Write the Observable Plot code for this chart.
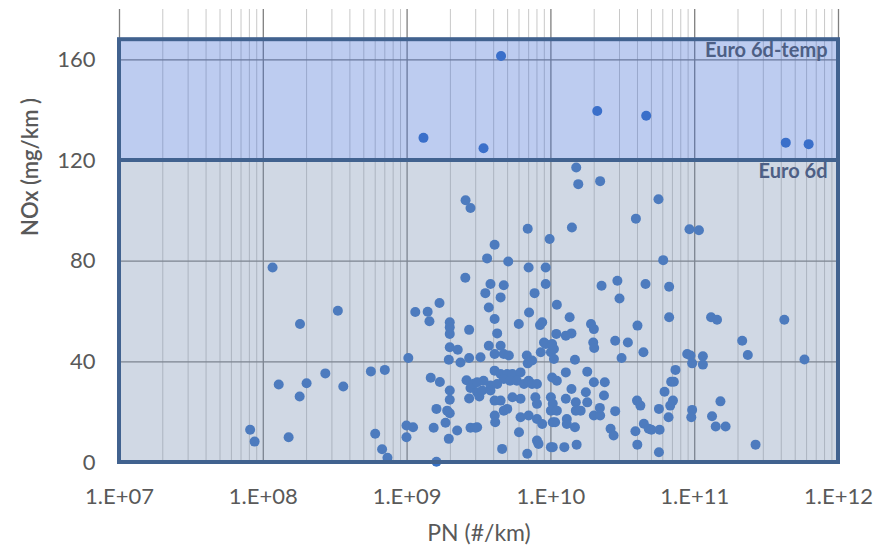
<!DOCTYPE html>
<html>
<head>
<meta charset="utf-8">
<script src="https://cdn.jsdelivr.net/npm/d3@7"></script>
<script src="https://cdn.jsdelivr.net/npm/@observablehq/plot@0.6"></script>
<style>
  html, body { margin: 0; padding: 0; background: #ffffff; }
  #chart { width: 879px; height: 552px; }
</style>
</head>
<body>
<div id="chart"></div>
<script>
// PN (#/km) and NOx (mg/km) per vehicle test
const pn = [
  4.5e9, 1.3e9, 3.4e9, 2.1e10, 4.6e10, 4.3e11, 6.2e11,
  1.16e8, 3.3e8, 1.8e8, 2.7e8, 1.28e8, 2.0e8, 1.79e8, 3.6e8, 5.6e8, 7.0e8,
  8.1e7, 8.7e7, 1.5e8, 6.0e8, 6.7e8, 7.3e8,
  2.55e9, 2.76e9, 2.54e9, 1.68e9, 1.14e9, 1.39e9, 1.43e9, 1.98e9, 1.98e9, 1.98e9,
  2.7e9, 1.98e9, 2.25e9, 1.02e9, 1.95e9, 2.35e9, 2.7e9, 1.46e9, 1.69e9, 2.59e9,
  1.98e9, 2.76e9, 1.98e9, 2.7e9, 1.6e9, 1.9e9, 1.98e9, 1.85e9, 2.23e9, 1.95e9,
  9.9e8, 1.1e9, 9.9e8, 1.53e9, 2.76e9, 2.99e9, 1.6e9, 2.9e9, 3.07e9,
  3.18e9, 3.8e9, 6.9e9, 1.02e10, 8.95e9,
  6.9e9, 9.8e9, 4.06e9, 3.6e9, 5.05e9, 7.0e9, 9.2e9, 3.8e9, 4.7e9, 3.5e9,
  4.47e9, 7.7e9, 9.2e9, 3.7e9, 1.1e10, 7.05e9, 4.06e9, 5.98e9, 8.4e9, 8.7e9,
  4.23e9, 3.7e9, 4.47e9, 4.7e9, 4.06e9, 3.24e9, 5.1e9, 9.2e9, 1.02e10, 1.09e10,
  1.0e10, 8.5e9, 6.8e9, 7.4e9, 1.05e10, 4.06e9, 4.47e9, 4.97e9, 5.4e9, 6.15e9,
  4.7e9, 5.2e9, 5.8e9, 6.5e9, 7.0e9, 4.23e9, 3.4e9, 3.07e9, 3.33e9, 3.8e9,
  4.06e9, 4.47e9, 5.4e9, 6.15e9, 7.4e9, 8.0e9, 7.8e9, 8.0e9, 1.0e10, 1.03e10,
  1.0e10, 1.1e10, 4.97e9, 4.7e9, 6.15e9, 7.0e9, 8.0e9, 8.7e9, 1.03e10, 4.07e9,
  4.1e9, 3.07e9, 6.0e9, 4.58e9, 6.85e9, 8.0e9, 8.2e9, 1.0e10,
  1.5e10, 1.55e10, 2.2e10, 5.6e10, 3.9e10, 9.2e10, 1.07e11, 1.4e10, 2.25e10, 2.9e10,
  4.55e10, 3.0e10, 1.35e10, 1.9e10, 1.99e10, 4.0e10, 1.39e10, 1.27e10, 1.97e10, 2.0e10,
  2.8e10, 3.43e10, 4.4e10, 3.1e10, 1.47e10, 1.05e10, 1.27e10, 1.79e10, 1.99e10, 2.37e10,
  1.1e10, 1.39e10, 1.75e10, 2.34e10, 1.27e10, 1.49e10, 1.79e10, 1.61e10, 1.49e10, 1.99e10,
  2.2e10, 2.19e10, 2.8e10, 3.97e10, 4.19e10, 1.07e10, 1.29e10, 1.29e10, 1.47e10, 2.6e10,
  2.73e10, 3.87e10, 4.43e10, 4.79e10, 1.03e10, 1.24e10, 1.51e10, 3.99e10,
  6.04e10, 6.64e10, 6.64e10, 1.3e11, 1.43e11, 4.2e11, 2.14e11, 2.34e11, 5.8e11, 8.87e10,
  9.35e10, 1.14e11, 9.6e10, 1.14e11, 7.35e10, 6.86e10, 7.16e10, 6.17e10, 7.06e10, 6.76e10,
  5.64e10, 6.58e10, 9.6e10, 9.47e10, 1.51e11, 1.32e11, 1.4e11, 1.64e11, 2.65e11, 5.0e10,
  5.7e10, 5.64e10
];
const nox = [
  161.5, 129, 124.9, 139.7, 137.8, 127.1, 126.5,
  77.5, 60.3, 55.0, 35.4, 31.0, 31.5, 26.2, 30.2, 36.2, 36.8,
  13.0, 8.3, 10.0, 11.4, 5.3, 1.9,
  104.2, 101.1, 73.4, 63.4, 59.8, 59.9, 56.1, 55.7, 53.7, 51.1,
  52.7, 45.8, 44.8, 41.5, 40.8, 39.7, 41.5, 33.7, 32.0, 32.7,
  28.6, 29.6, 24.9, 25.4, 21.3, 20.6, 19.6, 15.8, 12.7, 9.4,
  14.7, 14.0, 10.0, 13.8, 13.8, 13.8, 0.3, 31.3, 27.9,
  26.2, 30.6, 39.4, 33.8, 47.7,
  92.9, 88.8, 86.5, 81.1, 79.9, 77.5, 77.5, 70.9, 70.4, 67.3,
  65.6, 67.3, 70.9, 61.6, 62.7, 59.6, 57.0, 55.0, 54.6, 55.7,
  51.3, 46.4, 46.4, 43.1, 43.1, 41.8, 42.5, 47.1, 47.1, 51.1,
  43.8, 43.8, 42.5, 40.5, 41.1, 36.5, 35.2, 35.2, 35.2, 35.8,
  33.2, 32.5, 32.5, 31.2, 32.5, 31.2, 32.5, 31.9, 28.6, 28.6,
  24.6, 24.6, 25.9, 25.3, 31.2, 31.2, 25.9, 23.3, 25.9, 23.3,
  20.6, 20.6, 21.3, 20.6, 18.0, 18.7, 17.3, 15.3, 16.0, 18.7,
  16.0, 14.0, 12.0, 5.4, 3.5, 8.7, 7.4, 6.1,
  117.2, 110.6, 111.8, 104.6, 96.9, 92.7, 92.3, 93.4, 70.2, 72.2,
  70.9, 65.2, 57.7, 55.0, 53.0, 54.4, 51.3, 50.4, 47.7, 45.5,
  48.4, 47.7, 43.8, 41.5, 40.8, 45.1, 35.8, 36.1, 31.9, 31.9,
  32.5, 29.2, 27.9, 26.6, 25.3, 23.9, 23.9, 20.6, 20.6, 18.7,
  18.7, 21.7, 20.4, 24.6, 22.6, 16.0, 17.3, 15.3, 14.0, 13.4,
  10.7, 12.4, 15.4, 13.4, 6.1, 6.1, 7.1, 7.1,
  80.4, 69.8, 57.7, 57.7, 56.7, 56.7, 48.4, 42.7, 40.9, 43.1,
  42.5, 42.2, 39.4, 38.9, 36.8, 32.1, 32.1, 28.1, 24.6, 22.6,
  21.3, 18.0, 20.9, 18.0, 24.3, 18.4, 14.3, 14.3, 7.1, 13.0,
  13.0, 4.1
];

// Limit zones (mg/km)
const zoneNames = ["Euro 6d", "Euro 6d-temp"];
const zoneLow = [0, 120];
const zoneHigh = [120, 168];

// Axis ticks
const xTicks = [1e7, 1e8, 1e9, 1e10, 1e11, 1e12];
const yTicks = [0, 40, 80, 120, 160];

const points = pn.map((v, i) => ({pn: v, nox: nox[i]}));
const zones = zoneNames.map((n, i) => ({name: n, lo: zoneLow[i], hi: zoneHigh[i]}));
const minorTicks = xTicks.slice(0, -1).flatMap(d => d3.range(2, 10).map(k => k * d));

const FONT = "Lato, 'Open Sans', sans-serif";
const GRAY = "#595959";

const chart = Plot.plot({
  width: 879,
  height: 552,
  marginLeft: 119,
  marginRight: 41,
  marginTop: 9,
  marginBottom: 90,
  style: {fontFamily: FONT, background: "#ffffff", color: GRAY},
  x: {type: "log", domain: [1e7, 1e12]},
  y: {domain: [0, 180]},
  marks: [
    Plot.ruleX(minorTicks, {y1: 0, y2: 180, stroke: "#c8c8c8", strokeWidth: 1}),
    Plot.ruleX(xTicks, {y1: 0, y2: 180, stroke: "#7f7f7f", strokeWidth: 1.3}),
    Plot.ruleY([40, 80, 160], {x1: 1e7, x2: 1e12, stroke: "#7f7f7f", strokeWidth: 1.3}),
    Plot.dot(points, {x: "pn", y: "nox", r: 5, fill: "#3671c5", stroke: "none"}),
    Plot.rect(zones, {x1: 1e7, x2: 1e12, y1: "lo", y2: "hi",
      fill: d => d.name === "Euro 6d" ? "#7990b2" : "#426dd4", fillOpacity: 0.35}),
    Plot.rect(zones, {x1: 1e7, x2: 1e12, y1: "lo", y2: "hi",
      fill: "none", stroke: "#41628f", strokeWidth: 4}),
    Plot.text(zones, {x: 1e12, y: "hi", text: "name", textAnchor: "end", lineAnchor: "top",
      dx: -11, dy: 3, fontSize: 20, fontWeight: "bold", fill: "#4d5f85"}),
    Plot.axisX({ticks: xTicks, tickSize: 0, tickPadding: 26, fontSize: 22, fill: GRAY,
      tickFormat: d => "1.E+" + String(Math.round(Math.log10(d))).padStart(2, "0"), label: null}),
    Plot.axisY({ticks: yTicks, tickSize: 0, tickPadding: 24, fontSize: 22, fill: GRAY, label: null}),
    Plot.text(["NOx (mg/km )"], {frameAnchor: "left", dx: -89, rotate: -90, fontSize: 22,
      fontWeight: 600, fill: GRAY, text: d => d}),
    Plot.text(["PN (#/km)"], {frameAnchor: "bottom", dy: 78, fontSize: 23, fill: GRAY, text: d => d})
  ]
});
document.getElementById("chart").appendChild(chart);
</script>
</body>
</html>
